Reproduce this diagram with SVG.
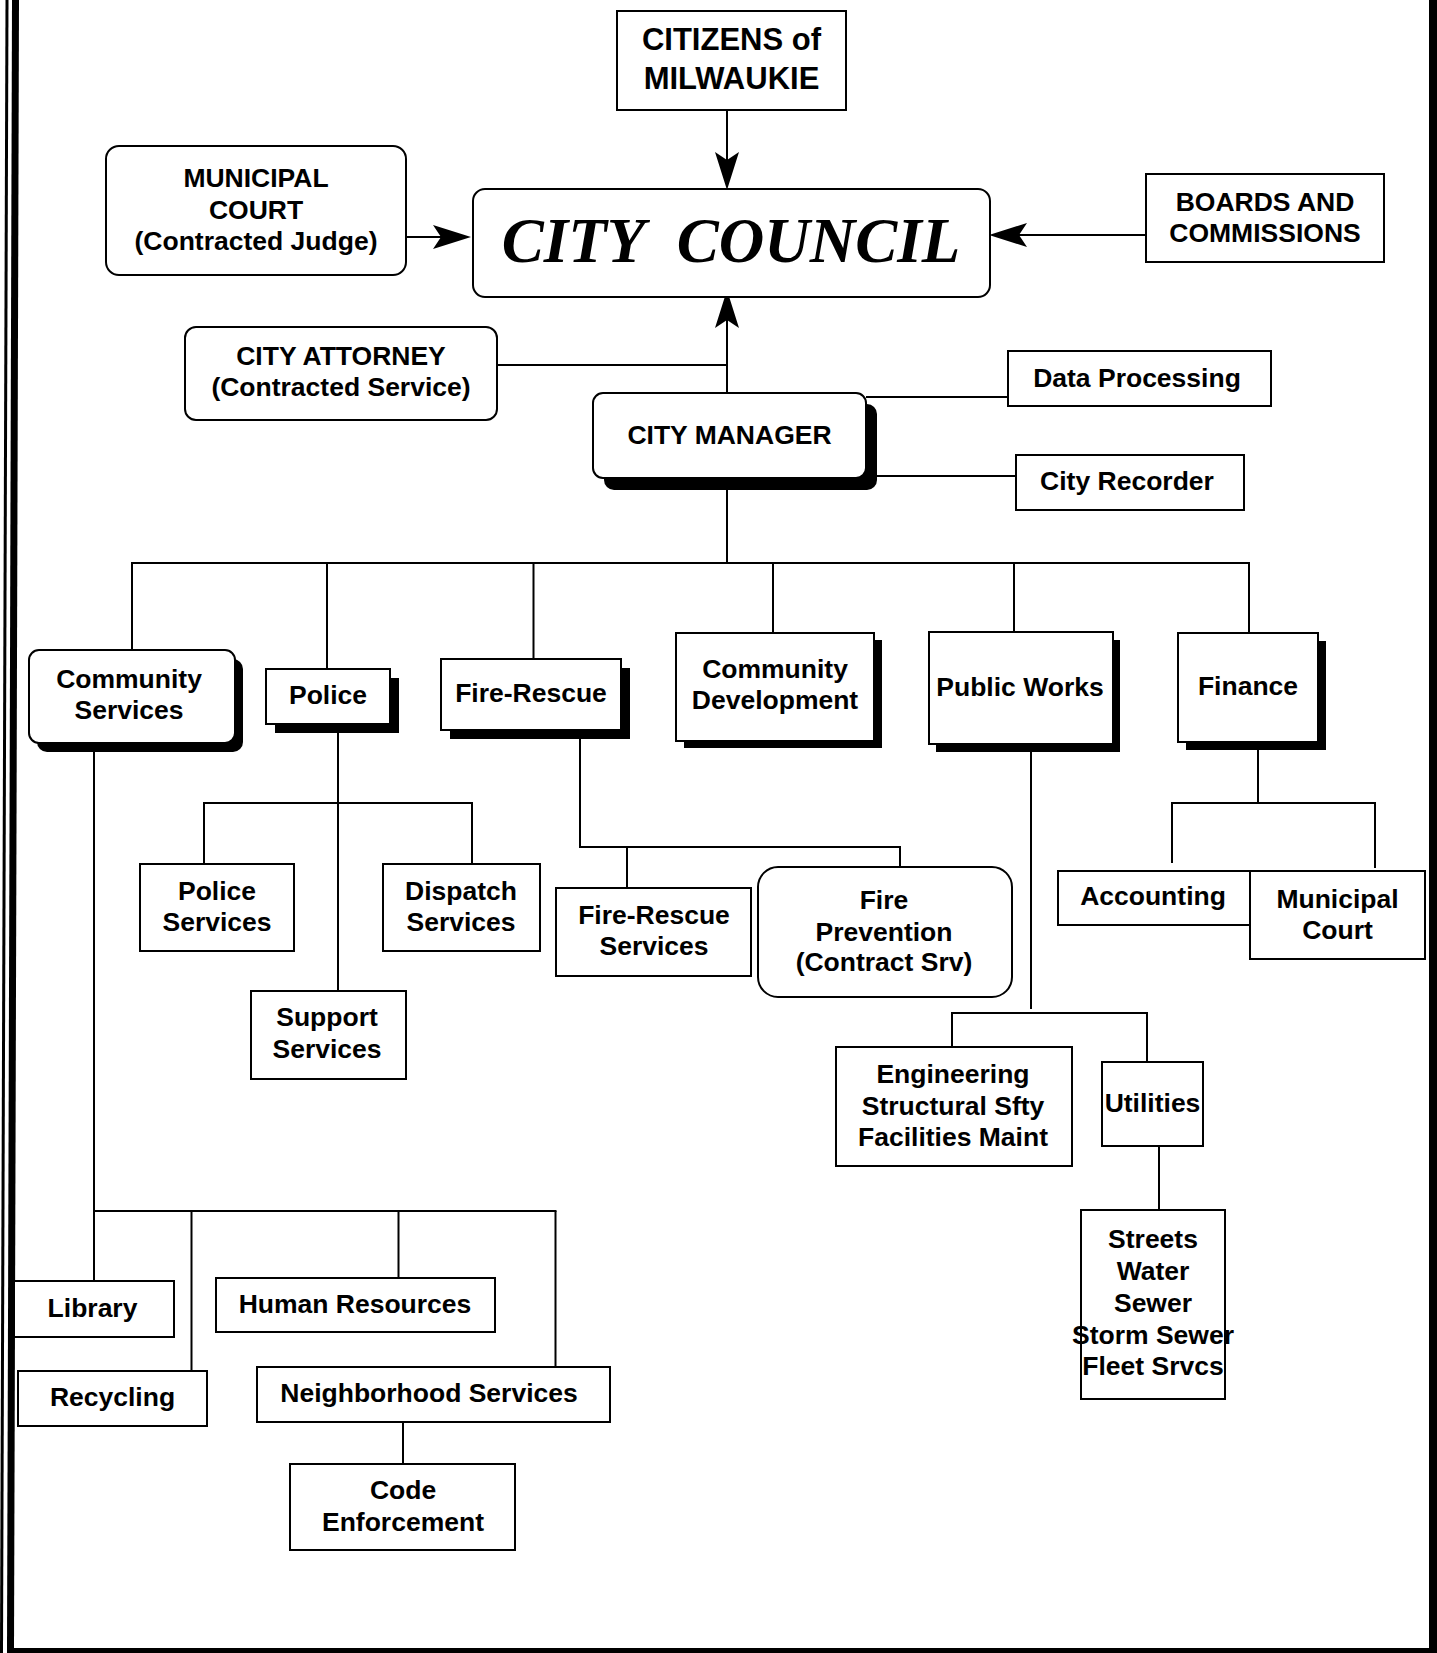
<svg xmlns="http://www.w3.org/2000/svg" width="1437" height="1653" viewBox="0 0 1437 1653">
<style>
.box{fill:#fff;stroke:#000;stroke-width:2}
.sh{fill:#000}
.t{font-family:"Liberation Sans",Arial,sans-serif;font-weight:bold;font-size:26.5px;text-anchor:middle;fill:#000}
.big{font-family:"Liberation Serif","Times New Roman",serif;font-weight:bold;font-style:italic;font-size:63px;text-anchor:middle;fill:#000}
.conn line{stroke:#000;stroke-width:2;fill:none}
</style>
<defs>
<marker id="arr" markerUnits="userSpaceOnUse" markerWidth="40" markerHeight="26" viewBox="0 0 40 26" refX="8" refY="13" orient="auto">
<path d="M38,13 L0,1 L8,13 L0,25 Z" fill="#000"/>
</marker>
</defs>
<rect width="1437" height="1653" fill="#fff"/>
<g id="border">
<polygon points="5.5,0 8.5,0 3,1653 0,1653" fill="#000"/>
<polygon points="12,0 19,0 14,1650 7,1650" fill="#000"/>
<rect x="1429" y="0" width="8" height="1653" fill="#000"/>
<rect x="7" y="1648" width="1430" height="5" fill="#000"/>
</g>

<g class="conn" id="connectors">
<line x1="727" y1="110" x2="727" y2="160" marker-end="url(#arr)"/>
<line x1="406" y1="237" x2="441" y2="237" marker-end="url(#arr)"/>
<line x1="1146" y1="235" x2="1019" y2="235" marker-end="url(#arr)"/>
<line x1="727" y1="393" x2="727" y2="320" marker-end="url(#arr)"/>
<line x1="497" y1="365" x2="727" y2="365"/>
<line x1="866" y1="397" x2="1008" y2="397"/>
<line x1="876" y1="476" x2="1016" y2="476"/>
<line x1="727" y1="490" x2="727" y2="563"/>
<line x1="131" y1="563" x2="1250" y2="563"/>
<line x1="132" y1="563" x2="132" y2="650"/>
<line x1="327" y1="563" x2="327" y2="669"/>
<line x1="533.5" y1="563" x2="533.5" y2="659"/>
<line x1="773" y1="563" x2="773" y2="633"/>
<line x1="1014" y1="563" x2="1014" y2="633"/>
<line x1="1249" y1="563" x2="1249" y2="633"/>
<line x1="338" y1="733" x2="338" y2="991"/>
<line x1="203" y1="803" x2="473" y2="803"/>
<line x1="204" y1="803" x2="204" y2="864"/>
<line x1="472" y1="803" x2="472" y2="864"/>
<line x1="580" y1="739" x2="580" y2="847"/>
<line x1="579" y1="847" x2="901" y2="847"/>
<line x1="627" y1="847" x2="627" y2="888"/>
<line x1="900" y1="847" x2="900" y2="868"/>
<line x1="1031" y1="752" x2="1031" y2="1009"/>
<line x1="951" y1="1013" x2="1148" y2="1013"/>
<line x1="952" y1="1013" x2="952" y2="1047"/>
<line x1="1147" y1="1013" x2="1147" y2="1062"/>
<line x1="1159" y1="1146" x2="1159" y2="1220"/>
<line x1="1258" y1="750" x2="1258" y2="803"/>
<line x1="1171" y1="803" x2="1376" y2="803"/>
<line x1="1172" y1="803" x2="1172" y2="863"/>
<line x1="1375" y1="803" x2="1375" y2="868"/>
<line x1="94" y1="752" x2="94" y2="1281"/>
<line x1="93" y1="1211" x2="556.5" y2="1211"/>
<line x1="191.5" y1="1211" x2="191.5" y2="1377"/>
<line x1="398.5" y1="1211" x2="398.5" y2="1278"/>
<line x1="555.5" y1="1211" x2="555.5" y2="1367"/>
<line x1="403" y1="1422" x2="403" y2="1472"/>
</g>

<g id="citizens">
<rect class="box" x="617" y="11" width="229" height="99"/>
<text class="t" style="font-size:31px" x="731.5" y="50">CITIZENS of</text>
<text class="t" style="font-size:31px" x="731.5" y="88.5">MILWAUKIE</text>
</g>

<g id="municipal-court-judge">
<rect class="box" x="106" y="146" width="300" height="129" rx="13"/>
<text class="t" x="256" y="187">MUNICIPAL</text>
<text class="t" x="256" y="218.5">COURT</text>
<text class="t" x="256" y="250">(Contracted Judge)</text>
</g>

<g id="city-council">
<rect class="box" x="473" y="189" width="517" height="108" rx="12"/>
<text class="big" x="731" y="262">CITY&#160; COUNCIL</text>
</g>

<g id="boards">
<rect class="box" x="1146" y="174" width="238" height="88"/>
<text class="t" x="1265" y="210.5">BOARDS AND</text>
<text class="t" x="1265" y="242">COMMISSIONS</text>
</g>

<g id="city-attorney">
<rect class="box" x="185" y="327" width="312" height="93" rx="11"/>
<text class="t" x="341" y="365">CITY ATTORNEY</text>
<text class="t" x="341" y="396">(Contracted Service)</text>
</g>

<g id="city-manager">
<rect class="sh" x="604" y="404" width="273" height="86" rx="10"/>
<rect class="box" x="593" y="393" width="273" height="85" rx="10"/>
<text class="t" x="729.5" y="444">CITY MANAGER</text>
</g>

<g id="data-processing">
<rect class="box" x="1008" y="351" width="263" height="55"/>
<text class="t" x="1137" y="387">Data Processing</text>
</g>

<g id="city-recorder">
<rect class="box" x="1016" y="455" width="228" height="55"/>
<text class="t" x="1127" y="490">City Recorder</text>
</g>

<g id="community-services">
<rect class="sh" x="37" y="659" width="206" height="93" rx="10"/>
<rect class="box" x="29" y="650" width="206" height="93" rx="10"/>
<text class="t" x="129" y="688">Community</text>
<text class="t" x="129" y="719">Services</text>
</g>

<g id="police">
<rect class="sh" x="275" y="678" width="124" height="55"/>
<rect class="box" x="266" y="669" width="124" height="55"/>
<text class="t" x="328" y="704">Police</text>
</g>

<g id="fire-rescue">
<rect class="sh" x="450" y="668" width="180" height="71"/>
<rect class="box" x="441" y="659" width="180" height="71"/>
<text class="t" x="531" y="702">Fire-Rescue</text>
</g>

<g id="community-development">
<rect class="sh" x="684" y="640" width="198" height="108"/>
<rect class="box" x="676" y="633" width="198" height="108"/>
<text class="t" x="775" y="678">Community</text>
<text class="t" x="775" y="709">Development</text>
</g>

<g id="public-works">
<rect class="sh" x="936" y="640" width="184" height="112"/>
<rect class="box" x="929" y="632" width="184" height="112"/>
<text class="t" x="1020" y="696">Public Works</text>
</g>

<g id="finance">
<rect class="sh" x="1186" y="641" width="140" height="109"/>
<rect class="box" x="1178" y="633" width="140" height="109"/>
<text class="t" x="1248" y="695">Finance</text>
</g>

<g id="police-services">
<rect class="box" x="140" y="864" width="154" height="87"/>
<text class="t" x="217" y="900">Police</text>
<text class="t" x="217" y="931">Services</text>
</g>

<g id="dispatch-services">
<rect class="box" x="383" y="864" width="157" height="87"/>
<text class="t" x="461" y="900">Dispatch</text>
<text class="t" x="461" y="931">Services</text>
</g>

<g id="support-services">
<rect class="box" x="251" y="991" width="155" height="88"/>
<text class="t" x="327" y="1026">Support</text>
<text class="t" x="327" y="1058">Services</text>
</g>

<g id="fire-rescue-services">
<rect class="box" x="556" y="888" width="195" height="88"/>
<text class="t" x="654" y="924">Fire-Rescue</text>
<text class="t" x="654" y="955">Services</text>
</g>

<g id="fire-prevention">
<rect class="box" x="758" y="867" width="254" height="130" rx="20"/>
<text class="t" x="884" y="909">Fire</text>
<text class="t" x="884" y="940.5">Prevention</text>
<text class="t" x="884" y="971">(Contract Srv)</text>
</g>

<g id="accounting">
<rect class="box" x="1058" y="871" width="192" height="54"/>
<text class="t" x="1153" y="905">Accounting</text>
</g>

<g id="municipal-court">
<rect class="box" x="1250" y="871" width="175" height="88"/>
<text class="t" x="1337.5" y="907.5">Municipal</text>
<text class="t" x="1337.5" y="939">Court</text>
</g>

<g id="engineering">
<rect class="box" x="836" y="1047" width="236" height="119"/>
<text class="t" x="953" y="1083">Engineering</text>
<text class="t" x="953" y="1115">Structural Sfty</text>
<text class="t" x="953" y="1146">Facilities Maint</text>
</g>

<g id="utilities">
<rect class="box" x="1102" y="1062" width="101" height="84"/>
<text class="t" x="1152.5" y="1112">Utilities</text>
</g>

<g id="streets">
<rect class="box" x="1081" y="1210" width="144" height="189"/>
<text class="t" x="1153" y="1248">Streets</text>
<text class="t" x="1153" y="1280">Water</text>
<text class="t" x="1153" y="1312">Sewer</text>
<text class="t" x="1153" y="1344">Storm Sewer</text>
<text class="t" x="1153" y="1375">Fleet Srvcs</text>
</g>

<g id="library">
<rect class="box" x="14" y="1281" width="160" height="56"/>
<text class="t" x="92.5" y="1317">Library</text>
</g>

<g id="recycling">
<rect class="box" x="18" y="1371" width="189" height="55"/>
<text class="t" x="112.5" y="1406">Recycling</text>
</g>

<g id="human-resources">
<rect class="box" x="216" y="1278" width="279" height="54"/>
<text class="t" x="355" y="1313">Human Resources</text>
</g>

<g id="neighborhood-services">
<rect class="box" x="257" y="1367" width="353" height="55"/>
<text class="t" x="429" y="1402">Neighborhood Services</text>
</g>

<g id="code-enforcement">
<rect class="box" x="290" y="1464" width="225" height="86"/>
<text class="t" x="403" y="1499">Code</text>
<text class="t" x="403" y="1531">Enforcement</text>
</g>
</svg>
